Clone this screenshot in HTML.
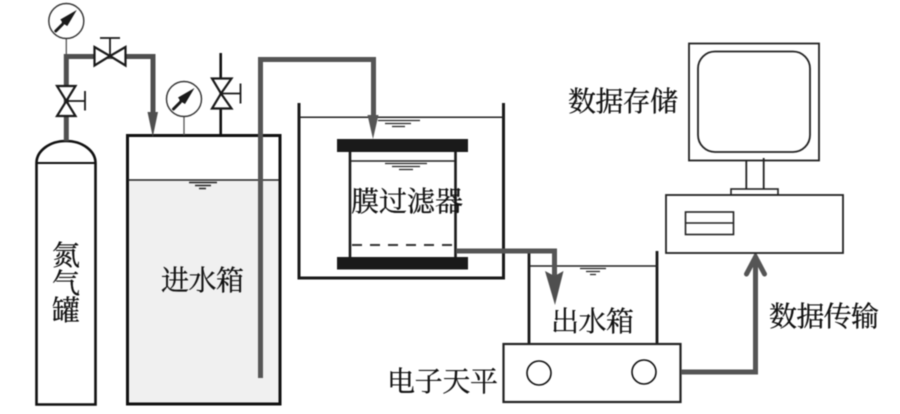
<!DOCTYPE html>
<html>
<head>
<meta charset="utf-8">
<style>
html,body{margin:0;padding:0;background:#fff;}
svg{display:block;filter:blur(0.4px);}
text{font-family:"Liberation Serif","Noto Serif CJK SC",serif;font-size:28px;fill:#111;stroke:#111;stroke-width:0.3px;}
</style>
</head>
<body>
<svg width="900" height="414" viewBox="0 0 900 414" xmlns="http://www.w3.org/2000/svg">
<defs>
<g id="gauge">
<circle cx="0" cy="0" r="17.5" fill="#fff" stroke="#333" stroke-width="1.4"/>
<path d="M-10.5 10 L-4 3.5" stroke="#1a1a1a" stroke-width="3" stroke-linecap="round"/>
<path d="M10.5 -11 L-6 -1.5 L-4.5 0.5 L-4.5 3 L-1.5 3.5 L1 5 Z" fill="#1a1a1a"/>
</g>
</defs>

<!-- inlet tank -->
<rect x="128" y="180" width="151.5" height="224" fill="#f0f0f0"/>
<rect x="127.5" y="135.5" width="152.5" height="268.5" fill="none" stroke="#111" stroke-width="3"/>
<path d="M128 180H279" stroke="#222" stroke-width="1.6"/>
<path d="M189 182.5H217M195 185.5H211M199 188.5H206" stroke="#222" stroke-width="1.4"/>

<!-- cylinder -->
<path d="M36.500 163 A29.500 22 0 0 1 95.500 163 V404.500 H36.500 Z" fill="#fff" stroke="#111" stroke-width="2.600"/>
<path d="M36 163H96" stroke="#111" stroke-width="2"/>

<!-- stems -->
<path d="M66.300 39V56" stroke="#555" stroke-width="1.300"/>
<path d="M184 117V135" stroke="#555" stroke-width="1.300"/>
<path d="M220.700 53V135" stroke="#111" stroke-width="2.600"/>

<!-- nitrogen pipes -->
<path d="M66.300 141V56.500H153V115" fill="none" stroke="#4f4f4f" stroke-width="5"/>
<path d="M147.500 112H158L152.800 137Z" fill="#4f4f4f"/>

<!-- valves -->
<g fill="#fff" stroke="#1a1a1a" stroke-width="2.200" stroke-linejoin="miter">
<path d="M94.500 47L110 56L94.500 65.500Z"/>
<path d="M125.500 47L110 56L125.500 65.500Z"/>
<path d="M57 86H75.500L66.300 101Z"/>
<path d="M57 116H75.500L66.300 101Z"/>
<path d="M212 78.500H231.500L221 93.500Z"/>
<path d="M212 108.500H231.500L221 93.500Z"/>
</g>
<path d="M110 56V38M100 38H120" fill="none" stroke="#1a1a1a" stroke-width="1.800"/>
<path d="M66 101H85M85 91V110.500" fill="none" stroke="#1a1a1a" stroke-width="1.800"/>
<path d="M221 93.500H240.500M240.500 83.500V103.500" fill="none" stroke="#1a1a1a" stroke-width="1.800"/>

<use href="#gauge" x="66.300" y="21"/>
<use href="#gauge" x="184" y="99"/>

<!-- bath -->
<path d="M299 103V278H503.500V103" fill="none" stroke="#1a1a1a" stroke-width="3"/>
<path d="M299 117.300H504" stroke="#222" stroke-width="1.500"/>
<path d="M378 120.500H420M385 123.500H411M392 126.500H405" stroke="#222" stroke-width="1.300"/>

<!-- membrane filter -->
<path d="M350 152V257M455.500 152V257" stroke="#1a1a1a" stroke-width="2.600"/>
<rect x="337" y="139" width="131" height="13" fill="#1a1a1a"/>
<rect x="337" y="257" width="131" height="12.500" fill="#1a1a1a"/>
<path d="M351 161H455" stroke="#222" stroke-width="1.500"/>
<path d="M385 163.500H427M392 166.500H420M399 169.500H413" stroke="#222" stroke-width="1.300"/>
<path d="M352 245H453" stroke="#333" stroke-width="2" stroke-dasharray="10 8"/>

<!-- feed pipe -->
<path d="M260.500 378V59.500H373.500V118" fill="none" stroke="#555" stroke-width="5"/>
<path d="M367.500 115H378.500L373 139Z" fill="#555"/>

<!-- outlet tank -->
<path d="M529 251V344M657 251V344" stroke="#1a1a1a" stroke-width="2.800"/>
<path d="M529 266H658" stroke="#222" stroke-width="1.400"/>
<path d="M580 268.500H606M586 271.500H600M590 274.500H596" stroke="#222" stroke-width="1.200"/>

<!-- filtrate pipe -->
<path d="M456 251H554.500V280" fill="none" stroke="#555" stroke-width="5"/>
<path d="M545 271L554.500 276L563.500 271L555 305Z" fill="#4f4f4f"/>

<!-- balance -->
<rect x="503.500" y="344" width="177" height="58" fill="#fff" stroke="#222" stroke-width="2.200"/>
<circle cx="539" cy="373" r="12" fill="#fff" stroke="#111" stroke-width="1.600"/>
<circle cx="644" cy="372" r="12" fill="#fff" stroke="#111" stroke-width="1.600"/>

<!-- data pipe -->
<path d="M681 372H755.500V256" fill="none" stroke="#555" stroke-width="5"/>
<path d="M746.500 274L755.500 257L764.500 274" fill="none" stroke="#555" stroke-width="5" stroke-linecap="round" stroke-linejoin="miter"/>

<!-- computer -->
<rect x="689" y="43.500" width="130" height="117" fill="#fff" stroke="#222" stroke-width="1.800"/>
<rect x="698" y="51.500" width="112" height="100.500" rx="17" ry="17" fill="#fff" stroke="#222" stroke-width="1.800"/>
<path d="M746.300 160V189M763.700 158V189" stroke="#222" stroke-width="1.800"/>
<rect x="731" y="189" width="47" height="6" fill="#fff" stroke="#222" stroke-width="1.600"/>
<rect x="666" y="195" width="177" height="58" fill="#fff" stroke="#222" stroke-width="1.800"/>
<rect x="685.500" y="212" width="48" height="22.500" fill="#fff" stroke="#222" stroke-width="1.600"/>
<path d="M685.500 223H733.500" stroke="#222" stroke-width="1.600"/>

<!-- labels -->
<text x="568" y="111" textLength="110" lengthAdjust="spacing">数据存储</text>
<text x="351" y="211" textLength="112" lengthAdjust="spacing">膜过滤器</text>
<text x="161" y="290" textLength="83" lengthAdjust="spacing">进水箱</text>
<text x="551" y="331" textLength="83" lengthAdjust="spacing">出水箱</text>
<text x="769" y="326" textLength="110" lengthAdjust="spacing">数据传输</text>
<text x="387" y="391" textLength="111" lengthAdjust="spacing">电子天平</text>
<text x="52" y="265">氮</text>
<text x="52" y="293">气</text>
<text x="52" y="320">罐</text>
</svg>
</body>
</html>
